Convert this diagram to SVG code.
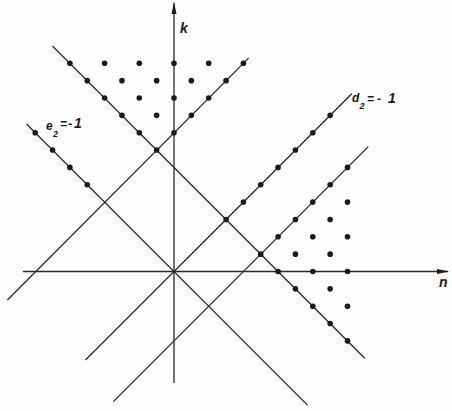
<svg xmlns="http://www.w3.org/2000/svg" width="452" height="411" viewBox="0 0 452 411">
<style>
.ln{stroke:#2a2a2a;stroke-width:1.3;fill:none}
.dot{fill:#1a1a1a}
.lbl{font-family:"Liberation Sans",Arial,sans-serif;font-style:italic;font-weight:bold;fill:#1a1a1a}
</style>
<defs>
<marker id="arr" viewBox="0 0 12 6" refX="11" refY="3" markerWidth="12" markerHeight="6" markerUnits="userSpaceOnUse" orient="auto">
<path d="M0,0.5 L12,3 L0,5.5 Z" fill="#1a1a1a"/>
</marker>
<circle id="d" r="2.8" class="dot"/>
</defs>
<rect width="452" height="411" fill="#fdfdfd"/>
<g id="connectors">
<line id="axis-n" class="ln" x1="23" y1="271.5" x2="448" y2="271.5" marker-end="url(#arr)"/>
<line id="axis-k" class="ln" x1="174" y1="383" x2="174" y2="3" marker-end="url(#arr)"/>
<line id="l-npk6" class="ln" x1="52.5" y1="46" x2="364.8" y2="358.3"/>
<line id="l-npk0" class="ln" x1="26.5" y1="124" x2="307.6" y2="405.1"/>
<line id="l-nmk-8" class="ln" x1="7.4" y1="300" x2="248.6" y2="58.1"/>
<line id="l-nmk0" class="ln" x1="85.5" y1="360" x2="351.8" y2="93.7"/>
<line id="l-nmk4" class="ln" x1="113.3" y1="401.6" x2="368.3" y2="146.6"/>
</g>
<g id="dots-top">
<use href="#d" x="69.9" y="63.3"/><use href="#d" x="104.6" y="63.3"/><use href="#d" x="139.3" y="63.3"/><use href="#d" x="174" y="63.3"/><use href="#d" x="208.7" y="63.3"/><use href="#d" x="243.4" y="63.3"/>
<use href="#d" x="87.25" y="80.65"/><use href="#d" x="121.95" y="80.65"/><use href="#d" x="156.65" y="80.65"/><use href="#d" x="191.35" y="80.65"/><use href="#d" x="226.05" y="80.65"/>
<use href="#d" x="104.6" y="98"/><use href="#d" x="139.3" y="98"/><use href="#d" x="174" y="98"/><use href="#d" x="208.7" y="98"/>
<use href="#d" x="121.95" y="115.35"/><use href="#d" x="156.65" y="115.35"/><use href="#d" x="191.35" y="115.35"/>
<use href="#d" x="139.3" y="132.7"/><use href="#d" x="174" y="132.7"/>
<use href="#d" x="156.65" y="150.05"/>
</g>
<g id="dots-right">
<use href="#d" x="260.75" y="254.15"/>
<use href="#d" x="278.1" y="236.8"/><use href="#d" x="278.1" y="271.5"/>
<use href="#d" x="295.45" y="219.45"/><use href="#d" x="295.45" y="254.15"/><use href="#d" x="295.45" y="288.85"/>
<use href="#d" x="312.8" y="202.1"/><use href="#d" x="312.8" y="236.8"/><use href="#d" x="312.8" y="271.5"/><use href="#d" x="312.8" y="306.2"/>
<use href="#d" x="330.15" y="184.75"/><use href="#d" x="330.15" y="219.45"/><use href="#d" x="330.15" y="254.15"/><use href="#d" x="330.15" y="288.85"/><use href="#d" x="330.15" y="323.55"/>
<use href="#d" x="347.5" y="167.4"/><use href="#d" x="347.5" y="202.1"/><use href="#d" x="347.5" y="236.8"/><use href="#d" x="347.5" y="271.5"/><use href="#d" x="347.5" y="306.2"/><use href="#d" x="347.5" y="340.9"/>
</g>
<g id="dots-d2">
<use href="#d" x="226.05" y="219.45"/><use href="#d" x="243.4" y="202.1"/><use href="#d" x="260.75" y="184.75"/><use href="#d" x="278.1" y="167.4"/><use href="#d" x="295.45" y="150.05"/><use href="#d" x="312.8" y="132.7"/><use href="#d" x="330.15" y="115.35"/>
</g>
<g id="dots-e2">
<use href="#d" x="35.2" y="132.7"/><use href="#d" x="52.55" y="150.05"/><use href="#d" x="69.9" y="167.4"/><use href="#d" x="87.25" y="184.75"/>
</g>
<g id="label-k"><text class="lbl" x="180" y="33" font-size="14">k</text></g>
<g id="label-n"><text class="lbl" x="439" y="287" font-size="14">n</text></g>
<g id="label-d2"><text class="lbl" font-size="12" x="352" y="102">d<tspan font-size="9" x="359.5" y="109">2</tspan><tspan x="367" y="103">=</tspan><tspan x="377" y="103">-</tspan><tspan x="388" y="103" font-size="14">1</tspan></text></g>
<g id="label-e2"><text class="lbl" font-size="12" x="46" y="130">e<tspan font-size="9" x="53" y="137">2</tspan><tspan x="60" y="128">=</tspan><tspan x="68" y="128">-</tspan><tspan x="74" y="128" font-size="14">1</tspan></text></g>
</svg>
